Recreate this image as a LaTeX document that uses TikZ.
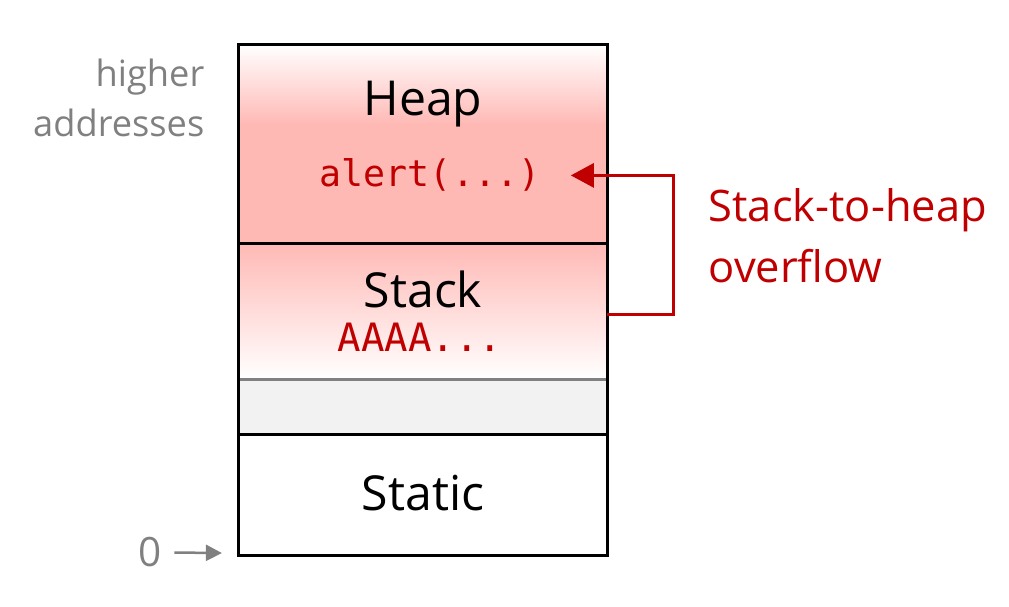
\documentclass[tikz,border=0pt]{standalone}
\usepackage{fontspec}
\setmainfont{Open Sans}
\setmonofont{DejaVu Sans Mono}
\usetikzlibrary{arrows.meta}
\definecolor{pinkfill}{RGB}{255,185,181}
\definecolor{alertred}{RGB}{192,0,0}
\definecolor{graytxt}{RGB}{128,128,128}
\definecolor{freegray}{RGB}{242,242,242}
\pgfdeclareverticalshading{heapshade}{100bp}{color(0bp)=(pinkfill); color(55bp)=(pinkfill); color(75bp)=(white); color(100bp)=(white)}
\tikzset{
  region/.style={inner sep=0pt, outer sep=0pt, minimum width=3.68cm},
  boxline/.style={line width=0.03cm, black},
  title/.style={font=\fontsize{13.7}{16}\selectfont, anchor=base, inner sep=0pt},
  code/.style={font=\ttfamily\fontsize{10.4}{12}\selectfont, text=alertred, anchor=base, inner sep=0pt},
  overflowarrow/.style={line width=0.03cm, alertred, -{Triangle[length=0.23cm, width=0.24cm]}},
  sidelabel/.style={text=graytxt, inner sep=0pt}
}
\begin{document}
\begin{tikzpicture}[x=0.01cm, y=-0.01cm]
\useasboundingbox (0,0) rectangle (1009,607);
% regions
\node[region, minimum height=1.98cm, shading=heapshade] (heap) at (423,144) {};
\node[region, minimum height=1.36cm, top color=pinkfill, bottom color=white] (stack) at (423,311) {};
\node[region, minimum height=0.56cm, fill=freegray] (free) at (423,407) {};
\node[region, minimum height=1.20cm, fill=white] (static) at (423,495) {};
% outline and dividers
\draw[graytxt, line width=0.03cm] (stack.south west) -- (stack.south east);
\draw[boxline] (heap.south west) -- (heap.south east);
\draw[boxline] (static.north west) -- (static.north east);
\draw[boxline] (heap.north west) rectangle (static.south east);
% texts
\node[title] (heaptxt) at (423,116) {Heap};
\node[code] (alert) at (430,187) {alert(...)};
\node[title] (stacktxt) at (423,308) {Stack};
\node[code, font=\ttfamily\fontsize{11.1}{13}\selectfont] (aaaa) at (420,352) {AAAA...};
\node[title] (statictxt) at (423,511) {Static};
% overflow arrow
\draw[overflowarrow] ([yshift=-0.04cm]stack.east) -- ++(66,0) |- ([xshift=0.30cm]alert.east);
\node[anchor=base west, text=alertred, align=left, inner sep=0pt, font=\fontsize{12.35}{14.2}\selectfont] (ovl) at (708,283) {Stack-to-heap\\[0.5ex]overflow};
% left labels
\node[sidelabel, anchor=base east, align=right, font=\fontsize{10.3}{12.8}\selectfont] (higher) at (205,137) {higher\\[0.3ex]addresses};
\node[sidelabel, anchor=base, font=\fontsize{11.5}{13}\selectfont] (zero) at (150,567) {0};
\draw[graytxt, line width=0.025cm, -{Triangle[length=0.16cm, width=0.16cm]}] ([xshift=0.12cm]zero.east) -- ([xshift=-0.17cm, yshift=0.02cm]static.south west);
\end{tikzpicture}
\end{document}
